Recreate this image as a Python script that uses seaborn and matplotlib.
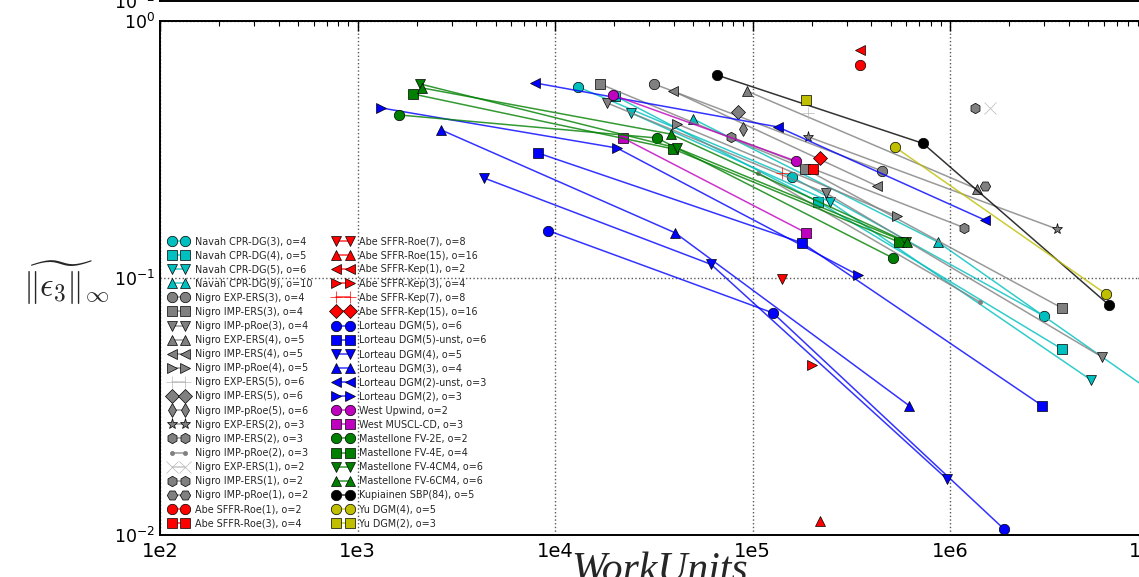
import matplotlib
matplotlib.use("Agg")
import matplotlib.pyplot as plt
import seaborn as sns

# ---------------------------------------------------------------
# Work units vs. max-norm error, one list per method family
# ---------------------------------------------------------------
navah_labels = ["Navah CPR-DG(3), o=4", "Navah CPR-DG(4), o=5",
                "Navah CPR-DG(5), o=6", "Navah CPR-DG(9), o=10"]
navah_work = [[13070, 158500, 2992000], [20130, 214700, 3690000],
              [24260, 246800, 5176000], [49990, 869400, 15490000]]
navah_err = [[0.554, 0.247, 0.0711], [0.511, 0.198, 0.0529],
             [0.439, 0.198, 0.0401], [0.416, 0.138, 0.0293]]

nigro_labels = ["Nigro EXP-ERS(3), o=4", "Nigro IMP-ERS(3), o=4",
                "Nigro IMP-pRoe(3), o=4", "Nigro EXP-ERS(4), o=5",
                "Nigro IMP-ERS(4), o=5", "Nigro IMP-pRoe(4), o=5",
                "Nigro EXP-ERS(5), o=6", "Nigro IMP-ERS(5), o=6",
                "Nigro IMP-pRoe(5), o=6", "Nigro EXP-ERS(2), o=3",
                "Nigro IMP-ERS(2), o=3", "Nigro IMP-pRoe(2), o=3",
                "Nigro EXP-ERS(1), o=2", "Nigro IMP-ERS(1), o=2",
                "Nigro IMP-pRoe(1), o=2"]
nigro_work = [[31700, 452600], [16900, 184500, 3690000],
              [18330, 235500, 5885000], [93750, 1370000],
              [39560, 426900], [41470, 539500],
              [192100], [84500],
              [89500], [192100, 3482000],
              [77840, 1178000], [106600, 1419000],
              [1595000], [1339000],
              [1504000]]
nigro_err = [[0.569, 0.261], [0.569, 0.266, 0.0764],
             [0.480, 0.214, 0.0493], [0.534, 0.222],
             [0.534, 0.228], [0.398, 0.174],
             [0.439], [0.442],
             [0.380], [0.354, 0.155],
             [0.354, 0.157], [0.257, 0.0806],
             [0.459], [0.459],
             [0.228]]

abe_labels = ["Abe SFFR-Roe(1), o=2", "Abe SFFR-Roe(3), o=4",
              "Abe SFFR-Roe(7), o=8", "Abe SFFR-Roe(15), o=16",
              "Abe SFFR-Kep(1), o=2", "Abe SFFR-Kep(3), o=4",
              "Abe SFFR-Kep(7), o=8", "Abe SFFR-Kep(15), o=16"]
abe_work = [[348300], [202300], [141000], [219600],
            [348300], [200000], [141000], [219600]]
abe_err = [[0.674], [0.266], [0.0991], [0.01134],
           [0.771], [0.0459], [0.257], [0.293]]

lorteau_labels = ["Lorteau DGM(5), o=6", "Lorteau DGM(5)-unst, o=6",
                  "Lorteau DGM(4), o=5", "Lorteau DGM(3), o=4",
                  "Lorteau DGM(2)-unst, o=3", "Lorteau DGM(2), o=3"]
lorteau_work = [[9220, 127000, 1876000], [8200, 178200, 2923000],
                [4372, 61660, 966000], [2648, 40520, 619800],
                [7925, 134600, 1504000], [1315, 20600, 342000]]
lorteau_err = [[0.153, 0.0731, 0.01055], [0.3065, 0.137, 0.0319],
               [0.245, 0.113, 0.0165], [0.377, 0.150, 0.0319],
               [0.574, 0.387, 0.168], [0.459, 0.3205, 0.1027]]

west_labels = ["West Upwind, o=2", "West MUSCL-CD, o=3"]
west_work = [[19670, 166000], [22090, 186600]]
west_err = [[0.515, 0.285], [0.3505, 0.150]]

mast_labels = ["Mastellone FV-2E, o=2", "Mastellone FV-4E, o=4",
               "Mastellone FV-4CM4, o=6", "Mastellone FV-6CM4, o=6"]
mast_work = [[1622, 32830, 514400], [1910, 39560, 552000],
             [2072, 41470, 598600], [2122, 38660, 605500]]
mast_err = [[0.431, 0.3505, 0.1196], [0.520, 0.318, 0.138],
            [0.569, 0.3205, 0.138], [0.549, 0.363, 0.138]]

kup_labels = ["Kupiainen SBP(84), o=5"]
kup_work = [[66100, 729800, 6383000]]
kup_err = [[0.616, 0.334, 0.0785]]

yu_labels = ["Yu DGM(4), o=5", "Yu DGM(2), o=3"]
yu_work = [[526800, 6166000], [186600]]
yu_err = [[0.323, 0.0866], [0.493]]

xtick_values = [1e2, 1e3, 1e4, 1e5, 1e6, 1e7]
xtick_labels = ["1e2", "1e3", "1e4", "1e5", "1e6", "1e7"]

# ---------------------------------------------------------------
# Styling per family
# ---------------------------------------------------------------
GRAY = (0.5, 0.5, 0.5)
LIGHT = (0.72, 0.72, 0.72)
families = [
    (navah_labels, navah_work, navah_err, [(0, .75, .75)] * 4, ["o", "s", "v", "^"]),
    (nigro_labels, nigro_work, nigro_err,
     [GRAY] * 6 + [LIGHT] + [GRAY] * 5 + [LIGHT] + [GRAY] * 2,
     ["o", "s", "v", "^", "<", ">", "+", "D", "d", "*", "h", ".", "x", "h", "H"]),
    (abe_labels, abe_work, abe_err, [(1, 0, 0)] * 8, ["o", "s", "v", "^", "<", ">", "+", "D"]),
    (lorteau_labels, lorteau_work, lorteau_err, [(0, 0, 1)] * 6, ["o", "s", "v", "^", "<", ">"]),
    (west_labels, west_work, west_err, [(.75, 0, .75)] * 2, ["o", "s"]),
    (mast_labels, mast_work, mast_err, [(0, .5, 0)] * 4, ["o", "s", "v", "^"]),
    (kup_labels, kup_work, kup_err, [(0, 0, 0)], ["o"]),
    (yu_labels, yu_work, yu_err, [(.75, .75, 0)] * 2, ["o", "s"]),
]

sns.set_theme(style="white")
plt.rcParams["font.family"] = ["DejaVu Sans"]
plt.rcParams["mathtext.fontset"] = "cm"

W, H = 1139, 577
fig = plt.figure(figsize=(W / 100, H / 100), dpi=100)
ax = fig.add_axes([160 / W, 42 / H, 987.5 / W, 514 / H])

for labels, works, errs, colors, markers in families:
    for lab, wk, er, col, mk in zip(labels, works, errs, colors, markers):
        size = 7.5
        if mk == "*":
            size = 8
        if mk == ".":
            size = 6
        if mk in ("+", "x"):
            size = 9
        edge = col if mk in ("+", "x", ".") else (0, 0, 0)
        sns.lineplot(x=wk, y=er, ax=ax, sort=False, estimator=None,
                     errorbar=None, color=(*col, 0.8), linewidth=1.1,
                     marker=mk, markersize=size, markerfacecolor=col,
                     markeredgecolor=edge, markeredgewidth=0.5,
                     label=lab, legend=False)

ax.set_xscale("log")
ax.set_yscale("log")
ax.set_xlim(1e2, 1e7)
ax.set_ylim(1e-2, 1e0)
ax.set_xticks(xtick_values, labels=xtick_labels)
ax.tick_params(which="both", direction="in", top=True, right=True,
               colors="black", labelsize=12.5)
ax.tick_params(axis="x", which="major", labelsize=14, pad=5)
ax.tick_params(which="major", length=7, width=1)
ax.tick_params(which="minor", length=3.5, width=0.8)
ax.grid(True, which="major", linestyle=":", color="0.35", linewidth=1)
for sp in ax.spines.values():
    sp.set_linewidth(1.4)
    sp.set_color("black")

ax.set_ylabel(r"$\widetilde{\|\epsilon_3\|}_\infty$", rotation=0, fontsize=24,
              ha="center", va="center",
              bbox=dict(facecolor="white", edgecolor="none", pad=1))
ax.yaxis.set_label_coords(-0.095, 0.49)
ax.set_xlabel("WorkUnits", fontsize=30, family="Liberation Serif",
              style="italic", va="top")
ax.xaxis.set_label_coords(0.506, -0.034)

ax.legend(ncol=2, loc="lower left", bbox_to_anchor=(0.0, -0.005), frameon=False,
          fontsize=6.9, numpoints=2, labelspacing=0.43, handlelength=2.0,
          handletextpad=0.7, columnspacing=2.2, borderaxespad=0.2,
          borderpad=0.74)

# neighbouring panel above, only its lower frame edge shows
ax_up = fig.add_axes([160 / W, 576 / H, 987.5 / W, 0.5])
ax_up.set_xscale("log")
ax_up.set_yscale("log")
ax_up.set_xlim(1e2, 1e7)
ax_up.set_ylim(1e-2, 1e0)
ax_up.tick_params(which="both", direction="in", labelsize=12.5, colors="black")
ax_up.tick_params(axis="x", which="both", labelbottom=False)
for sp in ax_up.spines.values():
    sp.set_linewidth(1.4)
    sp.set_color("black")

fig.savefig("out.png", dpi=100)
